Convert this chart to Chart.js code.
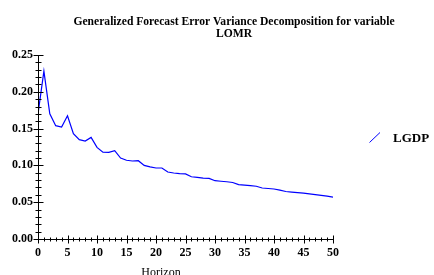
<!DOCTYPE html>
<html>
<head>
<meta charset="utf-8">
<script src="https://cdn.jsdelivr.net/npm/chart.js@4/dist/chart.umd.min.js"></script>
<style>
  html, body { margin: 0; padding: 0; background: #fff; }
  #wrap { width: 434px; height: 275px; }
</style>
</head>
<body>
<div id="wrap"><canvas id="myChart" width="434" height="275"></canvas></div>
<script>
var chart = document.getElementById('myChart')

const titleLines = ['Generalized Forecast Error Variance Decomposition for variable', 'LOMR'];
const seriesName = 'LGDP';
const xTitle = 'Horizon';

// horizon 0..50
const horizons = Array.from({length: 51}, (_, i) => i);
const lgdp = [
    0.170, 0.228, 0.170, 0.154, 0.152, 0.1675, 0.143, 0.135, 0.133, 0.138,
    0.1245, 0.118, 0.1177, 0.120, 0.110, 0.107, 0.106, 0.1064, 0.100, 0.098,
    0.0965, 0.0965, 0.091, 0.0897, 0.0888, 0.0884, 0.0846, 0.0837, 0.0828, 0.0824,
    0.0792, 0.0785, 0.0778, 0.0768, 0.0738, 0.0731, 0.0724, 0.0717, 0.0693, 0.0686,
    0.0679, 0.0664, 0.0645, 0.0637, 0.0630, 0.0622, 0.0612, 0.0602, 0.0592, 0.0582,
    0.0568
];

const serif = '"Liberation Serif", "Times New Roman", serif';

// axis lines, crossing tick marks, title, legend, x title
const decorPlugin = {
    id: 'decor',
    afterDraw(c) {
        const ctx = c.ctx;
        const xs = c.scales.x, ys = c.scales.y;
        const area = c.chartArea;
        ctx.save();
        ctx.strokeStyle = '#000';
        ctx.lineWidth = 1;
        ctx.beginPath();
        const ax = Math.round(area.left) + 0.5;
        const ay = Math.round(area.bottom) + 0.5;
        ctx.moveTo(ax, Math.round(area.top));
        ctx.lineTo(ax, ay);
        ctx.lineTo(Math.round(area.right) + 1, ay);
        // y ticks every 0.01
        for (let i = 0; i <= 25; i++) {
            const py = Math.round(ys.getPixelForValue(i / 100)) + 0.5;
            const len = (i % 5 === 0) ? 5 : 3;
            ctx.moveTo(ax - len, py);
            ctx.lineTo(ax + len, py);
        }
        // x ticks every 1
        for (let i = 0; i <= 50; i++) {
            const px = Math.round(xs.getPixelForValue(i)) + 0.5;
            const len = (i % 5 === 0) ? 4 : 2;
            ctx.moveTo(px, ay - len);
            ctx.lineTo(px, ay + len);
        }
        ctx.stroke();

        // title
        ctx.fillStyle = '#000';
        ctx.textAlign = 'center';
        ctx.textBaseline = 'alphabetic';
        ctx.font = 'bold 11.6px ' + serif;
        ctx.fillText(titleLines[0], 234, 25);
        ctx.fillText(titleLines[1], 234, 37);

        // legend
        ctx.strokeStyle = '#0000ff';
        ctx.beginPath();
        ctx.moveTo(369.5, 142.5);
        ctx.lineTo(380, 132.5);
        ctx.stroke();
        ctx.textAlign = 'left';
        ctx.font = 'bold 13px ' + serif;
        ctx.fillText(seriesName, 393, 142);

        // x title
        ctx.textAlign = 'center';
        ctx.font = '12px ' + serif;
        ctx.fillText(xTitle, 161, 276);
        ctx.restore();
    }
};

const myChart = new Chart(chart.getContext('2d'), {
    type: 'line',
    data: {
        labels: horizons,
        datasets: [{
            label: seriesName,
            data: lgdp.map((v, i) => ({x: horizons[i], y: v})),
            borderColor: '#0000ff',
            borderWidth: 1.2,
            pointRadius: 0,
            fill: false,
            tension: 0
        }]
    },
    options: {
        responsive: false,
        animation: false,
        layout: { padding: { top: 55, right: 101, left: 0, bottom: 0 } },
        plugins: {
            legend: { display: false },
            title: { display: false },
            tooltip: { enabled: false }
        },
        scales: {
            x: {
                type: 'linear',
                min: 0, max: 50,
                grid: { display: false, drawTicks: false },
                border: { display: false },
                ticks: {
                    stepSize: 5,
                    padding: 7,
                    color: '#000',
                    maxRotation: 0,
                    font: { family: serif, size: 12, weight: 'bold' }
                },
                afterFit(s) { s.height = 36; }
            },
            y: {
                min: 0, max: 0.25,
                grid: { display: false, drawTicks: false },
                border: { display: false },
                ticks: {
                    stepSize: 0.05,
                    padding: 5,
                    color: '#000',
                    font: { family: serif, size: 12, weight: 'bold' },
                    callback: v => v.toFixed(2)
                },
                afterFit(s) { s.width = 38; }
            }
        }
    },
    plugins: [decorPlugin]
});
</script>
</body>
</html>
